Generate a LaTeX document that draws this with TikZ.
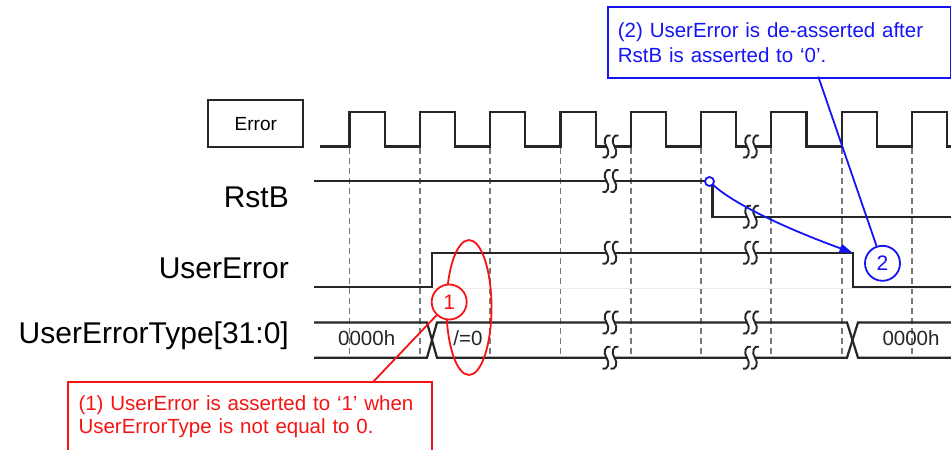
\documentclass[tikz,border=0pt]{standalone}
\usepackage{fontspec}
\setmainfont{Liberation Sans}
\usepackage{tikz}
\usetikzlibrary{arrows.meta,calc}
\definecolor{gridgray}{RGB}{120,120,120}
\definecolor{noteblue}{RGB}{20,20,245}
\definecolor{notered}{RGB}{245,20,20}
\newcommand{\xzero}{349.5}
\newcommand{\clkper}{70.3}
\newcommand{\brkmark}[2]{%
  \fill[white] ({#1-4},{#2-2.8}) rectangle ({#1+4},{#2+2.8});
  \foreach \dx in {-4,4}{
    \draw[brkline] ({#1+(\dx)+4},{#2-11}) .. controls ({#1+(\dx)-1},{#2-13}) and ({#1+(\dx)-4},{#2-5}) .. ({#1+(\dx)},{#2})
      .. controls ({#1+(\dx)+4},{#2+5}) and ({#1+(\dx)+1},{#2+13}) .. ({#1+(\dx)-4},{#2+11});
  }}

\begin{document}
\begin{tikzpicture}[x=1pt,y=-1pt,
  sig/.style={black!85,line width=2.2,line join=miter},
  brkline/.style={black!85,line width=1.9},
  clkgrid/.style={gridgray,line width=1.8,dash pattern=on 6pt off 4pt},
  siglabel/.style={inner sep=0,font=\fontsize{30}{36}\selectfont},
  errbox/.style={draw=black!85,line width=1.8,minimum width=95,minimum height=47,inner sep=0,font=\fontsize{19}{22}\selectfont},
  bustxt/.style={inner sep=0,font=\fontsize{20.5}{24}\selectfont,text=black!85},
  markone/.style={circle,draw=notered,fill=white,text=notered,line width=1.8,minimum size=35,inner sep=0,font=\fontsize{21}{24}\selectfont},
  marktwo/.style={markone,draw=noteblue,text=noteblue},
  tap/.style={circle,draw=noteblue,fill=white,line width=1.8,minimum size=9,inner sep=0},
  note/.style={align=left,inner xsep=10}]
\useasboundingbox (0,0) rectangle (951,450);
\clip (0,0) rectangle (951,450);

% clock grid
\foreach \k in {0,...,8}
  \draw[clkgrid] ({\xzero+\clkper*\k},148) -- ({\xzero+\clkper*\k},357);
\draw[gray!15,line width=1] (432,288.6) -- (951,288.6);

% signal names
\node[errbox] (err) at (255.8,123.7) {Error};
\node[siglabel,anchor=base east] (rstb) at (289,207.3) {RstB};
\node[siglabel,anchor=base east] (usererr) at (289,278.3) {UserError};
\node[siglabel,anchor=base east] (uetype) at (289,343.3) {UserErrorType[31:0]};

% waveforms
\draw[sig] (320,146.5) \foreach \k in {0,...,8}{
  -- ({\xzero+\clkper*\k},146.5) -- ({\xzero+\clkper*\k},112)
  -- ({\xzero+\clkper*\k+35.2},112) -- ({\xzero+\clkper*\k+35.2},146.5)} -- (951,146.5);
\draw[sig] (314,181) -- (712.5,181) -- (712.5,216.7) -- (951,216.7);
\draw[sig] (314,287.3) -- (431.7,287.3) -- (431.7,252.7) -- (853.3,252.7) -- (853.3,287.3) -- (951,287.3);
\draw[sig] (314,322.5) -- (427,322.5) -- (437,357.7) -- (847,357.7) -- (858,322.5) -- (951,322.5);
\draw[sig] (314,357.7) -- (427,357.7) -- (437,322.5) -- (847,322.5) -- (858,357.7) -- (951,357.7);
\node[bustxt,anchor=base] (val0) at (366.7,345) {0000h};
\node[bustxt,anchor=base] (val1) at (468,345) {/=0};
\node[bustxt,anchor=base] (val2) at (911,345) {0000h};

% time breaks
\foreach \y in {146.5,181,252.7,322.5,357.7} {\brkmark{610.5}{\y}}
\foreach \y in {146.5,216.7,252.7,322.5,357.7} {\brkmark{751}{\y}}

% note (1)
\draw[notered,line width=1.8] (469,307.5) ellipse [x radius=22.5,y radius=67.5];
\node[markone] (c1) at (449.2,302) {1};
\node[note,text=notered,anchor=north west,text width=343.4,inner ysep=13.3,
  font=\fontsize{20.5}{23.3}\selectfont] (note1) at (68.3,381.7)
  {(1) UserError is asserted to ‘1’ when\\UserErrorType is not equal to 0.};
\draw[notered,line width=1.8] (note1.north west) rectangle ([yshift=-40pt]note1.south east);
\coordinate (n1top) at (373.3,381.7);
\draw[notered,line width=1.8] (c1) -- (n1top);

% note (2)
\node[tap] (rsttap) at (709.5,181.5) {};
\coordinate (uefall) at (852.5,252.7);
\draw[noteblue,line width=1.8,-{Triangle[length=13pt,width=9pt]}] (rsttap) .. controls (735,205) and (790,230) .. (uefall);
\node[marktwo] (c2) at (882.5,263.3) {2};
\node[note,draw=noteblue,line width=1.8,text=noteblue,anchor=north west,text width=323,minimum height=70.7,
  font=\fontsize{20.5}{25}\selectfont] (note2) at (607,6)
  {(2) UserError is de-asserted after\\RstB is asserted to ‘0’.};
\coordinate (n2bot) at (818.3,76.7);
\draw[noteblue,line width=1.8] (n2bot) -- (c2);
\end{tikzpicture}
\end{document}
